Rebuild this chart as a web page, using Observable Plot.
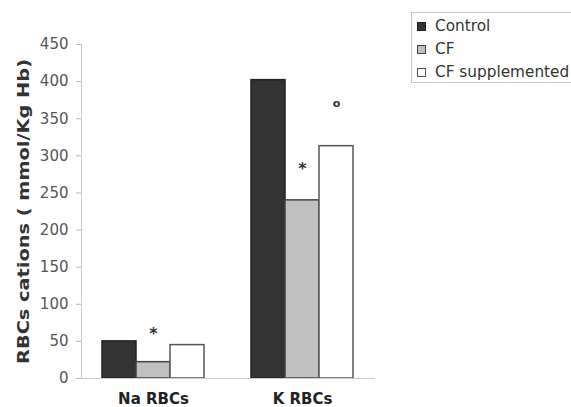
<!DOCTYPE html>
<html>
<head>
<meta charset="utf-8">
<script src="https://cdn.jsdelivr.net/npm/d3@7"></script>
<script src="https://cdn.jsdelivr.net/npm/@observablehq/plot@0.6"></script>
<style>
  html, body { margin: 0; padding: 0; background: #fff; overflow: hidden; }
  #wrap { position: relative; width: 571px; height: 407px; overflow: hidden; font-family: "DejaVu Sans", sans-serif; }
  #legend { position: absolute; left: 411px; top: 12px; width: 260px; height: 69px; border: 1px solid #c8c8c8; background: #fff; }
  .item { position: absolute; left: 5px; height: 18px; display: flex; align-items: center; font-size: 15.3px; color: #333; white-space: nowrap; }
  .sw { width: 9px; height: 9px; box-sizing: border-box; border: 1.5px solid #444; margin-right: 9px; }
</style>
</head>
<body>
<div id="wrap"></div>
<script>
const categories = ["Na RBCs", "K RBCs"];
const series = ["Control", "CF", "CF supplemented"];
const control = [50, 402];
const cf = [22, 240];
const cfSupplemented = [45, 313];
const yTicks = [0, 50, 100, 150, 200, 250, 300, 350, 400, 450];
const yLabel = "RBCs cations ( mmol/Kg Hb)";
// significance marks
const markCategory = ["Na RBCs", "K RBCs", "K RBCs"];
const markSeries = ["CF", "CF", "CF supplemented"];
const markSymbol = ["*", "*", "o"];
const markValue = [60, 283, 371];

const seriesValues = [control, cf, cfSupplemented];
const fills = ["#333333", "#c0c0c0", "#ffffff"];
const strokes = ["#222222", "#444444", "#555555"];

const data = categories.flatMap((c, i) => series.map((s, j) => ({category: c, series: s, value: seriesValues[j][i]})));
const marksData = markSymbol.map((t, k) => ({category: markCategory[k], series: markSeries[k], symbol: t, value: markValue[k]}));

const bw = 102; // band width in px given margins/padding
const part = bw / 3;

const plot = Plot.plot({
  width: 571,
  height: 407,
  marginLeft: 81,
  marginRight: 196,
  marginTop: 44,
  marginBottom: 29,
  style: {fontFamily: "DejaVu Sans", fontSize: "15px", color: "#555", background: "white", overflow: "visible"},
  x: {domain: categories, paddingInner: 0.315, paddingOuter: 0.144, label: null},
  y: {domain: [0, 450], label: yLabel},
  marks: [
    Plot.axisY({ticks: yTicks, tickSize: 5, tickPadding: 8, stroke: "#bbb", fill: "#555", fontSize: 15,
      label: yLabel, labelAnchor: "center", labelArrow: "none", labelOffset: 63}),
    Plot.axisX({tickSize: 0, tickPadding: 15, fontWeight: "bold", fill: "#222", fontSize: 15, label: null}),
    Plot.frame({anchor: "left", stroke: "#ccc"}),
    ...series.map((s, j) => Plot.barY(data.filter(d => d.series === s), {
      x: "category", y: "value", fill: fills[j], stroke: strokes[j], strokeWidth: 1.5,
      insetLeft: j * part, insetRight: (2 - j) * part
    })),
    Plot.ruleY([0], {stroke: "#ccc"}),
    ...series.map((s, j) => Plot.text(marksData.filter(d => d.series === s), {
      x: "category", y: "value", text: "symbol", dx: (j - 1) * part,
      fontSize: s === "CF supplemented" ? 11 : 16, fontWeight: "bold", fill: "#333"
    }))
  ]
});

const wrap = document.getElementById("wrap");
wrap.appendChild(plot);

// y label styling
d3.select(plot).selectAll('[aria-label="y-axis label"] text')
  .attr("font-weight", "bold").attr("fill", "#333")
  .attr("textLength", 305).attr("lengthAdjust", "spacingAndGlyphs");

// legend
const legend = document.createElement("div");
legend.id = "legend";
series.forEach((s, j) => {
  const it = document.createElement("div");
  it.className = "item";
  it.style.top = (4 + j * 23) + "px";
  const sw = document.createElement("span");
  sw.className = "sw";
  sw.style.background = fills[j];
  sw.style.borderColor = strokes[j];
  it.appendChild(sw);
  it.appendChild(document.createTextNode(s));
  legend.appendChild(it);
});
wrap.appendChild(legend);
</script>
</body>
</html>
